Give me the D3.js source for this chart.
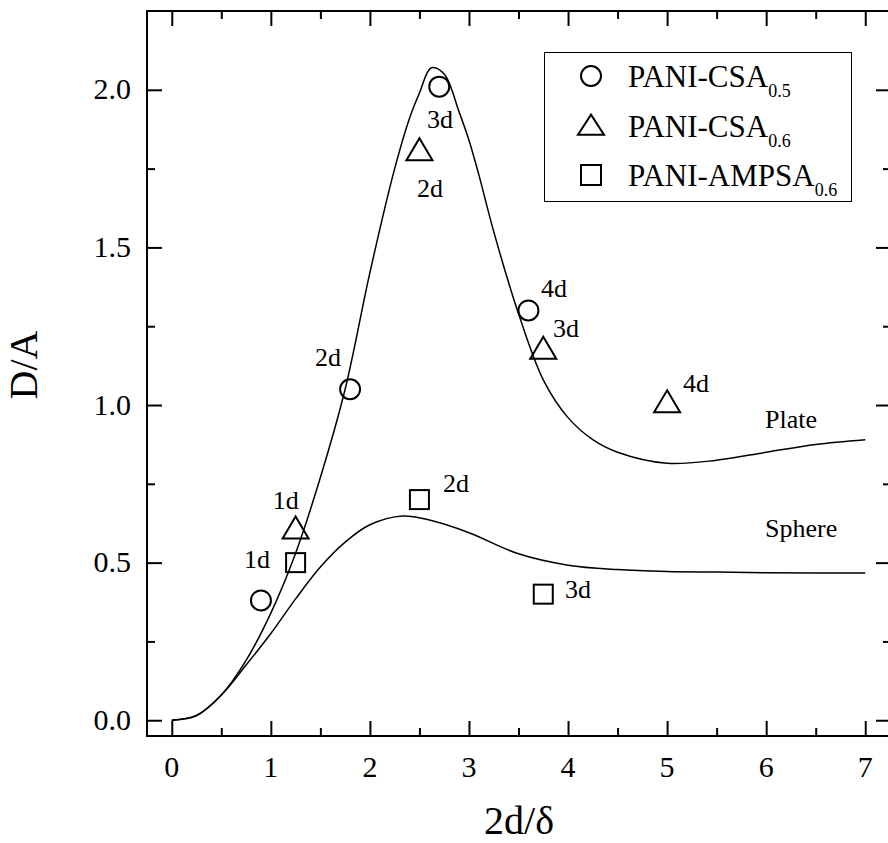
<!DOCTYPE html>
<html>
<head>
<meta charset="utf-8">
<script src="https://cdn.jsdelivr.net/npm/d3@7"></script>
<style>
  body { margin: 0; background: #fff; }
  svg { display: block; font-family: "Liberation Serif", "Times New Roman", serif; }
</style>
</head>
<body>
<div id="chart"></div>
<script>
// measured points (2d/delta, D/A)
var csa05 = [[0.9, 0.38], [1.8, 1.05], [2.7, 2.01], [3.6, 1.30]];
var csa06 = [[1.25, 0.60], [2.5, 1.80], [3.75, 1.17], [5.0, 1.00]];
var ampsa06 = [[1.25, 0.50], [2.5, 0.70], [3.75, 0.40]];

// theoretical curves
var plateX = [0, 0.25, 0.5, 0.75, 1.0, 1.25, 1.5, 1.75, 2.0, 2.25, 2.4, 2.5, 2.62, 2.75, 2.9, 3.0, 3.1, 3.25, 3.5, 3.75, 4.0, 4.25, 4.5, 5.0, 5.5, 6.0, 6.5, 7.0];
var plateY = [0, 0.015, 0.08, 0.19, 0.34, 0.53, 0.77, 1.05, 1.42, 1.75, 1.91, 1.99, 2.07, 2.05, 1.93, 1.84, 1.73, 1.55, 1.29, 1.08, 0.96, 0.89, 0.85, 0.815, 0.825, 0.85, 0.875, 0.89];
var sphereX = [0, 0.25, 0.5, 0.75, 1.0, 1.25, 1.5, 1.75, 2.0, 2.33, 2.6, 3.0, 3.5, 4.0, 4.5, 5.0, 5.5, 6.0, 6.5, 7.0];
var sphereY = [0, 0.015, 0.08, 0.175, 0.275, 0.385, 0.486, 0.565, 0.62, 0.648, 0.635, 0.595, 0.528, 0.492, 0.478, 0.472, 0.47, 0.468, 0.467, 0.467];

// text annotations, anchored in data space (start of text, baseline)
var annotations = [
  ["1d", 0.73, 0.483], ["1d", 1.02, 0.670], ["2d", 1.445, 1.124], ["3d", 2.576, 1.879],
  ["4d", 3.727, 1.343], ["2d", 2.475, 1.660], ["3d", 3.848, 1.216], ["4d", 5.16, 1.041],
  ["2d", 2.737, 0.724], ["3d", 3.969, 0.388], ["Plate", 5.988, 0.927], ["Sphere", 5.988, 0.581]
];

var legendNames = ["PANI-CSA", "PANI-CSA", "PANI-AMPSA"];
var legendSubs = ["0.5", "0.6", "0.6"];

var xMajor = [0, 1, 2, 3, 4, 5, 6, 7];
var xMinor = [0.5, 1.5, 2.5, 3.5, 4.5, 5.5, 6.5];
var yMajor = [0, 0.5, 1.0, 1.5, 2.0];
var yMinor = [0.25, 0.75, 1.25, 1.75];

var W = 888, H = 843;
var plotL = 147, plotR = 891, plotT = 11, plotB = 736;

var svg = d3.select("#chart").append("svg").attr("width", W).attr("height", H);

var x = d3.scaleLinear().domain([-0.25, 7.26]).range([plotL, plotR]);
var y = d3.scaleLinear().domain([-0.05, 2.25]).range([plotB, plotT]);

//Curves first so the frame sits on top
var line = d3.line().x(function(d) { return x(d[0]); }).y(function(d) { return y(d[1]); }).curve(d3.curveCatmullRom.alpha(0.5));

svg.append("path").datum(d3.zip(plateX, plateY)).attr("d", line)
  .attr("fill", "none").attr("stroke", "#000").attr("stroke-width", 1.5);
svg.append("path").datum(d3.zip(sphereX, sphereY)).attr("d", line)
  .attr("fill", "none").attr("stroke", "#000").attr("stroke-width", 1.5);

//Axes: ticks pointing inward on all four sides
function drawAxis(axis, vals, size, tx, ty) {
  var g = svg.append("g").attr("transform", "translate(" + tx + "," + ty + ")")
    .call(axis.tickValues(vals).tickSize(-size).tickFormat(""));
  g.select(".domain").remove();
  g.selectAll(".tick line").attr("stroke", "#000").attr("stroke-width", 2);
  return g;
}

drawAxis(d3.axisBottom(x), xMajor, 15, 0, plotB);
drawAxis(d3.axisBottom(x), xMinor, 8, 0, plotB);
drawAxis(d3.axisTop(x), xMajor, 15, 0, plotT);
drawAxis(d3.axisTop(x), xMinor, 8, 0, plotT);
drawAxis(d3.axisLeft(y), yMajor, 15, plotL, 0);
drawAxis(d3.axisLeft(y), yMinor, 8, plotL, 0);
drawAxis(d3.axisRight(y), yMajor, 15, plotR, 0);
drawAxis(d3.axisRight(y), yMinor, 8, plotR, 0);

svg.append("rect").attr("x", plotL).attr("y", plotT).attr("width", plotR - plotL).attr("height", plotB - plotT)
  .attr("fill", "none").attr("stroke", "#000").attr("stroke-width", 2);

//Tick labels
svg.selectAll("text.xlab").data(xMajor).enter().append("text")
  .attr("x", function(d) { return x(d); }).attr("y", 777)
  .attr("text-anchor", "middle").attr("font-size", 30).text(function(d) { return d; });

svg.selectAll("text.ylab").data(yMajor).enter().append("text")
  .attr("x", 131).attr("y", function(d) { return y(d); }).attr("dy", "0.32em")
  .attr("text-anchor", "end").attr("font-size", 30).text(function(d) { return d.toFixed(1); });

//Axis titles
svg.append("text").attr("x", (plotL + plotR) / 2).attr("y", 834).attr("text-anchor", "middle")
  .attr("font-size", 40).text("2d/\u03b4");
svg.append("text").attr("transform", "translate(37,365) rotate(-90)").attr("text-anchor", "middle")
  .attr("font-size", 40).text("D/A");

//Markers
function triPath(w, h) {
  return "M0," + (-2 * h / 3) + "L" + (w / 2) + "," + (h / 3) + "L" + (-w / 2) + "," + (h / 3) + "Z";
}
var markerStyle = function(sel) { sel.attr("fill", "none").attr("stroke", "#000").attr("stroke-width", 2); };

svg.selectAll("circle.csa05").data(csa05).enter().append("circle")
  .attr("cx", function(d) { return x(d[0]); }).attr("cy", function(d) { return y(d[1]); })
  .attr("r", 10).call(markerStyle);

svg.selectAll("path.csa06").data(csa06).enter().append("path")
  .attr("transform", function(d) { return "translate(" + x(d[0]) + "," + y(d[1]) + ")"; })
  .attr("d", triPath(26, 22)).call(markerStyle);

svg.selectAll("rect.ampsa").data(ampsa06).enter().append("rect")
  .attr("x", function(d) { return x(d[0]) - 9.5; }).attr("y", function(d) { return y(d[1]) - 9.5; })
  .attr("width", 19).attr("height", 19).call(markerStyle);

//Annotations
svg.selectAll("text.ann").data(annotations).enter().append("text")
  .attr("x", function(d) { return x(d[1]); }).attr("y", function(d) { return y(d[2]); })
  .attr("font-size", 26).text(function(d) { return d[0]; });

//Legend
var leg = svg.append("g");
leg.append("rect").attr("x", 544.5).attr("y", 52.5).attr("width", 307).attr("height", 149)
  .attr("fill", "#fff").attr("stroke", "#000").attr("stroke-width", 1);

var rowY = [76, 126, 175];
leg.append("circle").attr("cx", 591).attr("cy", rowY[0]).attr("r", 10).call(markerStyle);
leg.append("path").attr("transform", "translate(591," + (rowY[1] + 2) + ")").attr("d", triPath(26, 20)).call(markerStyle);
leg.append("rect").attr("x", 581).attr("y", rowY[2] - 10).attr("width", 20).attr("height", 20).call(markerStyle);

legendNames.forEach(function(name, i) {
  var t = leg.append("text").attr("x", 628).attr("y", rowY[i] + 11).attr("font-size", 31);
  t.append("tspan").text(name);
  t.append("tspan").attr("dy", 10).attr("font-size", 18).text(legendSubs[i]);
});
</script>
</body>
</html>
